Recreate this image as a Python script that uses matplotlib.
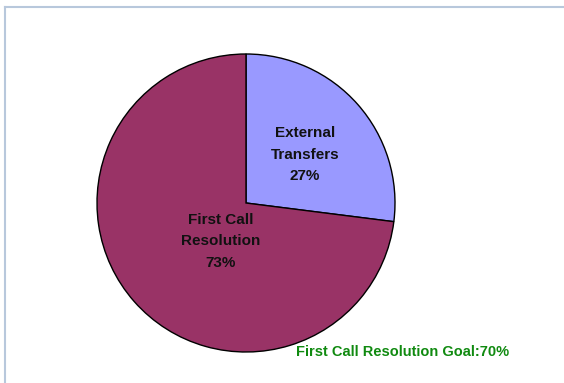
import numpy as np
import matplotlib.pyplot as plt
from matplotlib.lines import Line2D

labels = ['External\nTransfers', 'First Call\nResolution']
values = [27, 73]
colors = ['#9999ff', '#993366']
goal_text = 'First Call Resolution Goal:70%'

W, H = 564, 383
fig = plt.figure(figsize=(W / 100, H / 100), dpi=100)
ax = fig.add_axes([0, 0, 1, 1])

# frame round the chart area (top and left visible)
fig.add_artist(Line2D([4.5 / W, 4.5 / W], [0, 1 - 6.5 / H], color='#b8c8dc', lw=1.5))
fig.add_artist(Line2D([4.5 / W, 1], [1 - 6.5 / H, 1 - 6.5 / H], color='#b8c8dc', lw=1.5))

cx, cy, r = 246, H - 203, 149
wedges, _ = ax.pie(values, colors=colors, startangle=90, counterclock=False,
                   center=(cx, cy), radius=r, frame=True,
                   wedgeprops=dict(edgecolor='black', linewidth=1))
ax.set_xlim(0, W)
ax.set_ylim(0, H)
ax.set_aspect('equal')
ax.axis('off')

# label distance (fraction of radius) and angle shift per slice
dist = [0.51, 0.31]
shift = [-2, 15]
for w, lab, v, d, s in zip(wedges, labels, values, dist, shift):
    ang = np.deg2rad((w.theta1 + w.theta2) / 2 + s)
    ax.text(cx + d * r * np.cos(ang), cy + d * r * np.sin(ang), f'{lab}\n{v}%',
            ha='center', va='center', fontsize=11, fontweight='bold',
            family='Liberation Sans', linespacing=1.7, color='#111111')

ax.text(296, H - 352, goal_text, ha='left', va='center', fontsize=10.5,
        fontweight='bold', family='Liberation Sans', color='#108a10')

fig.savefig('out.png', dpi=100)
